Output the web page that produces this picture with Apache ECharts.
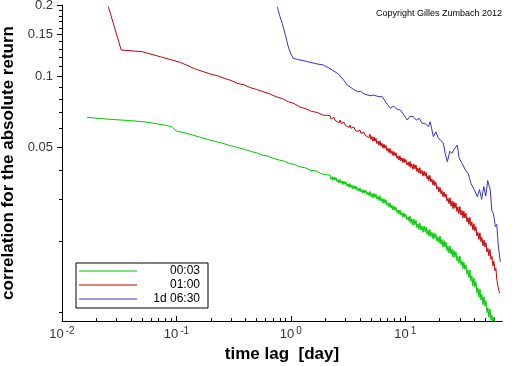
<!DOCTYPE html>
<html><head><meta charset="utf-8">
<script src="https://cdn.jsdelivr.net/npm/echarts@6/dist/echarts.min.js"></script>
<style>html,body{margin:0;padding:0;background:#fff}#c{width:512px;height:366px}</style>
</head><body><div id="c"></div>
<script>
const seriesNames = ['00:03', '01:00', '1d 06:30'];
const seriesColors = ['#00c800', '#c80000', '#3232c8'];
const xLabelValues = [0.01, 0.1, 1, 10];
const xMinorValues = [0.02,0.03,0.04,0.05,0.06,0.07,0.08,0.09,0.2,0.3,0.4,0.5,0.6,0.7,0.8,0.9,2,3,4,5,6,7,8,9,20,30,40,50,60];
const yLabelValues = [0.05, 0.1, 0.15, 0.2];
const yMinorValues = [0.01,0.02,0.03,0.04,0.06,0.07,0.08,0.09,0.11,0.12,0.13,0.14,0.16,0.17,0.18,0.19];

// short lags (day)
const greenLagsShort = [0.0166,0.0216,0.028,0.0379,0.0513,0.0653,0.0831,0.0919,0.0996,0.132,0.186,0.232,0.26,0.29,0.32,0.36,0.40,0.45,0.50,0.56,0.63,0.70,0.78,0.87,0.97,1.08,1.2,1.34,1.49,1.66,1.85,2.05];
const greenCorrShort = [0.0668,0.0660,0.0654,0.0648,0.0640,0.0629,0.0616,0.0608,0.0585,0.0566,0.0539,0.0524,0.0517,0.0507,0.0503,0.0494,0.0488,0.0478,0.0473,0.0462,0.0458,0.0448,0.0441,0.0436,0.0426,0.0421,0.0412,0.0408,0.0398,0.0396,0.0385,0.0381];
const redLagsShort = [0.0254,0.0329,0.0502,0.0722,0.108,0.146,0.20,0.232,0.27,0.30,0.34,0.39,0.44,0.50,0.57,0.65,0.74,0.84,0.95,1.07,1.2,1.35,1.52,1.71,1.93,2.1];
const redCorrShort = [0.197,0.1289,0.1268,0.1207,0.1143,0.1071,0.1018,0.1000,0.0972,0.0958,0.0931,0.0918,0.0893,0.0878,0.0858,0.0841,0.0817,0.0803,0.0778,0.0764,0.0738,0.0727,0.0708,0.0700,0.0681,0.0682];

// long lags shared by the two dense (noisy) curves
const denseLags = [2.20,2.245,2.29,2.335,2.38,2.43,2.48,2.53,2.58,2.635,
2.69,2.745,2.80,2.855,2.91,2.97,3.03,3.095,3.16,3.225,
3.29,3.355,3.42,3.49,3.56,3.635,3.71,3.785,3.86,3.94,
4.02,4.10,4.18,4.265,4.35,4.44,4.53,4.625,4.72,4.815,
4.91,5.01,5.11,5.215,5.32,5.43,5.54,5.655,5.77,5.89,
6.01,6.13,6.25,6.38,6.51,6.645,6.78,6.92,7.06,7.205,
7.35,7.50,7.65,7.805,7.96,8.125,8.29,8.46,8.63,8.805,
8.98,9.165,9.35,9.545,9.74,9.92,10.1,10.35,10.6,10.8,
11.0,11.2,11.4,11.65,11.9,12.15,12.4,12.65,12.9,13.15,
13.4,13.7,14.0,14.3,14.6,14.9,15.2,15.5,15.8,16.1,
16.4,16.75,17.1,17.45,17.8,18.15,18.5,18.9,19.3,19.7,
20.1,20.5,20.9,21.35,21.8,22.25,22.7,23.15,23.6,24.1,
24.6,25.1,25.6,26.1,26.6,27.15,27.7,28.25,28.8,29.4,
30.0,30.65,31.3,31.9,32.5,33.2,33.9,34.6,35.3,36.0,
36.7,37.45,38.2,39.0,39.8,40.6,41.4,42.25,43.1,44.0,
44.9,45.8,46.7,47.7,48.7,49.7,50.7,51.7,52.7,53.8,
54.9,56.05,57.2,58.35,59.5,60.7,61.9,63.2,64.5,65.8,67.1];
const greenCorrDense = [0.03805,0.03656,0.03744,0.03611,0.03736,0.03618,0.03713,0.0356,0.03639,0.03523,
0.03652,0.03508,0.03593,0.03464,0.03583,0.0347,0.0356,0.03412,0.03488,0.03376,
0.03499,0.0336,0.03441,0.03317,0.03431,0.03326,0.03417,0.03275,0.03347,0.03239,
0.03356,0.03223,0.03299,0.03185,0.03298,0.03193,0.03274,0.03142,0.03216,0.03112,
0.03239,0.03082,0.03177,0.03042,0.0318,0.03056,0.03157,0.03001,0.03091,0.02969,
0.03106,0.0295,0.03035,0.02896,0.03016,0.02893,0.02983,0.02825,0.02899,0.02779,
0.02901,0.02754,0.02832,0.02701,0.02812,0.02696,0.02778,0.02634,0.02707,0.02594,
0.02706,0.02568,0.02639,0.0252,0.02628,0.02518,0.02593,0.02458,0.02525,0.02418,
0.02546,0.02377,0.02481,0.0233,0.02476,0.02338,0.02443,0.02271,0.02363,0.02234,
0.02381,0.02221,0.02318,0.02176,0.02311,0.02186,0.02287,0.02131,0.02221,0.02099,
0.02236,0.02085,0.02175,0.02041,0.02166,0.02049,0.02142,0.01995,0.02079,0.01964,
0.02101,0.01936,0.02028,0.01882,0.0201,0.01882,0.01976,0.01817,0.019,0.01776,
0.01903,0.01757,0.01843,0.01709,0.01823,0.0171,0.01799,0.01648,0.01717,0.01608,
0.01726,0.01583,0.01649,0.01526,0.01627,0.01514,0.01581,0.01446,0.01504,0.01397,
0.01502,0.01349,0.01421,0.01287,0.0139,0.01272,0.01344,0.01203,0.01265,0.01154,
0.0125,0.01123,0.01185,0.01074,0.0116,0.01058,0.01113,0.00993,0.0104,0.0095,
0.01029,0.00922,0.00968,0.00879,0.00951,0.00868,0.00914,0.00817,0.00857,0.00779,0.0084];
const redCorrDense = [0.0679,0.0658,0.0669,0.06506,0.06669,0.06501,0.06618,0.06407,0.06509,0.06343,
0.06506,0.06303,0.06407,0.06225,0.06375,0.06213,0.06323,0.06116,0.06207,0.06048,
0.06202,0.06007,0.06104,0.0593,0.06071,0.05915,0.06019,0.0582,0.05905,0.05752,
0.05897,0.05711,0.05802,0.05639,0.05777,0.05627,0.05725,0.05539,0.05624,0.05477,
0.05668,0.05385,0.05542,0.05289,0.05511,0.05288,0.05453,0.05166,0.05303,0.05085,
0.0531,0.05042,0.05187,0.04943,0.05143,0.04933,0.05084,0.04814,0.04939,0.04734,
0.04941,0.04689,0.04821,0.04597,0.04785,0.04587,0.04725,0.04477,0.04596,0.04402,
0.04592,0.04366,0.04496,0.04295,0.04479,0.04296,0.04428,0.04198,0.04313,0.04139,
0.04347,0.04094,0.04245,0.04021,0.04231,0.04034,0.04192,0.03936,0.04068,0.03875,
0.04089,0.03845,0.0398,0.03764,0.03954,0.03763,0.03904,0.03663,0.03785,0.03599,
0.0379,0.03553,0.03665,0.03453,0.03615,0.03428,0.03543,0.03308,0.034,0.0322,
0.03378,0.03167,0.03268,0.0308,0.03225,0.03058,0.03162,0.02953,0.03036,0.02876,
0.03047,0.02812,0.02949,0.02741,0.02932,0.02749,0.02891,0.02661,0.02784,0.02606,
0.02798,0.02575,0.02693,0.02501,0.02673,0.02499,0.02621,0.02405,0.0251,0.02347,
0.02517,0.02309,0.02406,0.02222,0.02362,0.022,0.02298,0.02097,0.02174,0.02026,
0.02163,0.01984,0.02068,0.01906,0.0202,0.01882,0.01966,0.01793,0.01859,0.01728,
0.01841,0.0167,0.0172,0.01565,0.01637,0.01495,0.01529,0.01359,0.01372,0.01224,0.0120];

const blueLags = [0.76,0.80,0.841,0.90,0.949,1.0,1.05,1.15,1.3,1.477,1.65,1.92,2.2,2.6,2.9,3.11,3.5,3.81,4.04,4.4,4.94,5.3,5.8,6.3,6.8,7.39,7.9,8.5,9.04,9.6,10.4,11.0,11.75,12.5,13.2,14.1,15.0,15.9,16.5,17.6,18.5,19.3,20.2,21.5,22.3,23.3,24.5,25.5,26.8,28.5,29.5,31.0,33.5,35.5,37.5,40.0,42.6,44.5,46.5,48.5,50.5,52.5,55.3,57.0,59.0,61.2,63.0,65.0,67.7];
const blueCorr = [0.1965,0.180,0.167,0.148,0.1331,0.124,0.1189,0.1175,0.1160,0.1143,0.1128,0.1113,0.1075,0.102,0.096,0.0916,0.0880,0.0858,0.0862,0.0838,0.0825,0.0830,0.0818,0.0817,0.0770,0.0730,0.0745,0.0722,0.0718,0.0690,0.0651,0.0675,0.0672,0.0650,0.0662,0.0630,0.0628,0.0610,0.0640,0.0553,0.0580,0.0550,0.0535,0.0520,0.0470,0.0433,0.0480,0.0470,0.0490,0.0510,0.0450,0.0430,0.0400,0.0385,0.0350,0.0330,0.0308,0.0330,0.0300,0.0340,0.0310,0.0360,0.0329,0.0270,0.0260,0.0230,0.0235,0.0190,0.0163];

function zip(a, b) { return a.map((v, i) => [v, b[i]]); }
const greenData = zip(greenLagsShort, greenCorrShort).concat(zip(denseLags, greenCorrDense));
const redData = zip(redLagsShort, redCorrShort).concat(zip(denseLags, redCorrDense));
const blueData = zip(blueLags, blueCorr);

const font = '"Liberation Sans", Arial, sans-serif';
const chart = echarts.init(document.getElementById('c'), null, {renderer: 'canvas'});
const xBase = {type: 'log', logBase: 10, min: 0.01, max: 70, position: 'bottom', splitLine: {show: false}};
const yBase = {type: 'log', logBase: 10, min: 0.00915, max: 0.2, position: 'left', splitLine: {show: false}};
chart.setOption({
  animation: false,
  grid: {left: 62, right: 10, top: 5, bottom: 45, containLabel: false, outerBoundsMode: 'none'},
  xAxis: [
    Object.assign({}, xBase, {
      name: 'time lag  [day]', nameLocation: 'middle', nameGap: 25,
      nameTextStyle: {fontFamily: font, fontSize: 17, fontWeight: 'bold', color: '#000'},
      axisLine: {lineStyle: {color: '#000', width: 1}},
      axisTick: {inside: true, length: 5, lineStyle: {color: '#000'}, customValues: xLabelValues},
      axisLabel: {customValues: xLabelValues, margin: 5, fontFamily: font, fontSize: 13, color: '#333',
        formatter: v => '10{s|' + Math.round(Math.log10(v)) + '}',
        rich: {s: {fontSize: 10, fontFamily: font, color: '#333', verticalAlign: 'top', padding: [0, 0, 7, 2]}}}
    }),
    Object.assign({}, xBase, {
      axisLine: {show: false},
      axisTick: {inside: true, length: 3, lineStyle: {color: '#000'}, customValues: xMinorValues},
      axisLabel: {show: false}
    })
  ],
  yAxis: [
    Object.assign({}, yBase, {
      name: 'correlation for the absolute return', nameLocation: 'middle', nameGap: 34, nameRotate: 90,
      nameTextStyle: {fontFamily: font, fontSize: 17, fontWeight: 'bold', color: '#000'},
      axisLine: {lineStyle: {color: '#000', width: 1}},
      axisTick: {length: 5, lineStyle: {color: '#000'}, customValues: yLabelValues},
      axisLabel: {customValues: yLabelValues, margin: 9, fontFamily: font, fontSize: 13, color: '#333',
        formatter: v => String(parseFloat(v.toPrecision(3)))}
    }),
    Object.assign({}, yBase, {
      axisLine: {show: false},
      axisTick: {length: 3, lineStyle: {color: '#000'}, customValues: yMinorValues},
      axisLabel: {show: false}
    })
  ],
  legend: {
    orient: 'vertical', left: 76, top: 263, padding: [2, 8, 3, 3],
    borderColor: '#000', borderWidth: 1, itemWidth: 58, itemHeight: 14, itemGap: 2,
    icon: 'path://M0,0H58V1H0Z', symbolKeepAspect: true,
    data: seriesNames,
    formatter: n => '{t|' + n + '}',
    textStyle: {fontFamily: font, fontSize: 12, color: '#000',
      rich: {t: {width: 58, align: 'right', fontFamily: font, fontSize: 12}}}
  },
  graphic: [{type: 'text', right: 10, top: 9,
    style: {text: 'Copyright Gilles Zumbach 2012', font: '9px "Liberation Sans", Arial, sans-serif', fill: '#000'}}],
  series: [
    {name: seriesNames[0], type: 'line', data: greenData, showSymbol: false, symbol: 'none', color: seriesColors[0], lineStyle: {width: 1}},
    {name: seriesNames[1], type: 'line', data: redData, showSymbol: false, symbol: 'none', color: seriesColors[1], lineStyle: {width: 1}},
    {name: seriesNames[2], type: 'line', data: blueData, showSymbol: false, symbol: 'none', color: seriesColors[2], lineStyle: {width: 1}}
  ]
});
</script></body></html>
